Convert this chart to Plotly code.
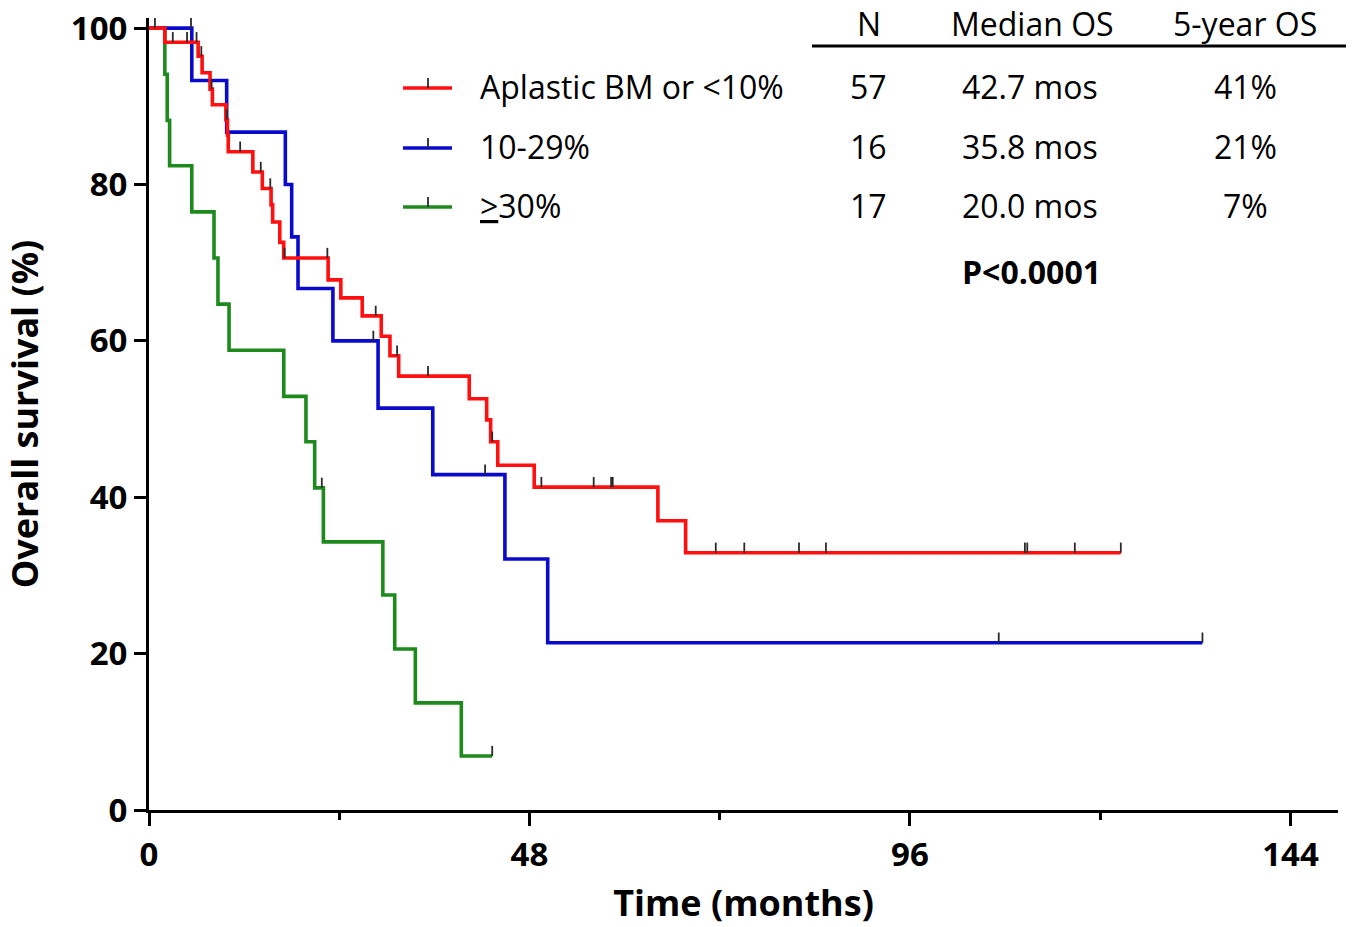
import plotly.graph_objects as go

# ---------------- data ----------------
red_times = [0, 2.0, 6.2, 6.7, 7.7, 8.0, 9.7, 9.9, 10.0, 13.1, 14.3, 15.4, 15.6, 16.5, 17.0,
             22.6, 24.2, 26.9, 29.3, 30.4, 31.5, 40.4, 42.6, 43.1, 44.0, 48.6, 64.2, 67.7, 122.6]
red_surv = [100, 98.2, 96.4, 94.3, 92.2, 90.2, 88.3, 86.3, 84.2, 81.6, 79.5, 77.4, 75.2, 72.6, 70.6,
            67.8, 65.5, 63.2, 60.6, 58.1, 55.5, 52.6, 49.9, 47.1, 44.1, 41.3, 37.0, 32.9, 32.9]
red_censor = [0.75, 3.0, 4.8, 6.0, 6.6, 7.9, 9.8, 11.5, 14.1, 15.3, 17.1, 22.5, 28.6, 31.3, 35.2,
              43.3, 49.5, 56.1, 58.3, 58.5, 71.5, 75.1, 82.0, 85.4, 110.5, 110.8, 116.8, 122.6]

blue_times = [0, 5.4, 9.8, 17.2, 18.0, 18.8, 23.2, 28.9, 35.8, 44.9, 50.3, 132.9]
blue_surv = [100, 93.3, 86.7, 80.0, 73.3, 66.7, 60.0, 51.4, 42.9, 32.1, 21.4, 21.4]
blue_censor = [5.3, 28.3, 42.4, 107.2, 132.9]

green_times = [0, 2.0, 2.3, 2.6, 5.4, 8.2, 8.7, 10.1, 17.0, 19.8, 20.9, 22.0, 29.5, 31.0, 33.6, 39.4, 43.3]
green_surv = [100, 94.1, 88.2, 82.4, 76.5, 70.6, 64.7, 58.8, 52.9, 47.1, 41.2, 34.3, 27.5, 20.6, 13.7, 6.9, 6.9]
green_censor = [21.8, 43.3]

group_labels = ["Aplastic BM or <10%", "10-29%",
                "<span style='text-decoration:underline'>></span>30%"]
group_n = ["57", "16", "17"]
group_median = ["42.7 mos", "35.8 mos", "20.0 mos"]
group_5yr = ["41%", "21%", "7%"]
table_headers = ["N", "Median OS", "5-year OS"]
p_value_text = "P<0.0001"

x_ticks = [0, 48, 96, 144]
x_minor = [24, 72, 120]
y_ticks = [0, 20, 40, 60, 80, 100]

colors = ["#FF0F0F", "#0A0ACD", "#1E8A1E"]
tick_color = "#2a2a2a"
FONT = "Open Sans"


def surv_at(times, surv, t):
    v = surv[0]
    for ti, si in zip(times, surv):
        if ti <= t:
            v = si
    return v


def censor_xy(times, surv, cens, h=1.3):
    xs, ys = [], []
    for c in cens:
        s = surv_at(times, surv, c)
        xs += [c, c, None]
        ys += [s, s + h, None]
    return xs, ys


fig = go.Figure()
groups = [(green_times, green_surv, green_censor, colors[2]),
          (blue_times, blue_surv, blue_censor, colors[1]),
          (red_times, red_surv, red_censor, colors[0])]
for times, surv, cens, col in groups:
    fig.add_trace(go.Scatter(x=times, y=surv, mode="lines", line=dict(color=col, width=3.6, shape="hv"),
                             showlegend=False, hoverinfo="skip", cliponaxis=False))
for times, surv, cens, col in groups:
    cx, cy = censor_xy(times, surv, cens)
    fig.add_trace(go.Scatter(x=cx, y=cy, mode="lines", line=dict(color=tick_color, width=1.8),
                             showlegend=False, hoverinfo="skip", cliponaxis=False))

# pixel frame of plot area
L, R, T, B = 149, 1338, 18, 810
W, H = 1354, 927


def px(x):
    return (x - L) / (R - L)


def py(y):
    return (B - y) / (B - T)


ann = []
shapes = []
txt_font = dict(family=FONT, size=32, color="black")
# header
for h, xc in zip(table_headers, [869, 1032, 1245]):
    ann.append(dict(x=px(xc), y=py(24), xref="paper", yref="paper", text=h, showarrow=False,
                    xanchor="center", yanchor="middle", font=txt_font))
shapes.append(dict(type="line", xref="paper", yref="paper", x0=px(812), x1=px(1346), y0=py(46), y1=py(46),
                   line=dict(color="black", width=3)))
rows_y = [86, 147, 205]
line_y = [88, 148, 207]
for i in range(3):
    shapes.append(dict(type="line", xref="paper", yref="paper", x0=px(403), x1=px(452),
                       y0=py(line_y[i]), y1=py(line_y[i]), line=dict(color=colors[i], width=3.6)))
    shapes.append(dict(type="line", xref="paper", yref="paper", x0=px(428), x1=px(428),
                       y0=py(line_y[i]), y1=py(line_y[i] - 10), line=dict(color=tick_color, width=1.8)))
    ann.append(dict(x=px(478), y=py(rows_y[i]), xref="paper", yref="paper", text=group_labels[i],
                    showarrow=False, xanchor="left", yanchor="middle", font=txt_font))
    ann.append(dict(x=px(869), y=py(rows_y[i]), xref="paper", yref="paper", text=group_n[i],
                    showarrow=False, xanchor="center", yanchor="middle", font=txt_font))
    ann.append(dict(x=px(1030), y=py(rows_y[i]), xref="paper", yref="paper", text=group_median[i],
                    showarrow=False, xanchor="center", yanchor="middle", font=txt_font))
    ann.append(dict(x=px(1245), y=py(rows_y[i]), xref="paper", yref="paper", text=group_5yr[i],
                    showarrow=False, xanchor="center", yanchor="middle", font=txt_font))
ann.append(dict(x=px(1031), y=py(271), xref="paper", yref="paper", text="<b>" + p_value_text + "</b>",
                showarrow=False, xanchor="center", yanchor="middle", font=txt_font))

fig.update_layout(
    width=W, height=H,
    margin=dict(l=L, r=W - R, t=T, b=H - B, pad=0, autoexpand=False),
    paper_bgcolor="white", plot_bgcolor="white",
    annotations=ann, shapes=shapes,
    font=dict(family=FONT, color="black"),
    xaxis=dict(range=[0, 150], tickvals=x_ticks, ticktext=[str(v) for v in x_ticks],
               showline=True, linecolor="black", linewidth=3, ticks="outside", ticklen=13,
               tickwidth=3, tickcolor="black", showgrid=False, zeroline=False, automargin=False,
               ticklabeloverflow="allow",
               minor=dict(tickvals=x_minor, ticks="outside", ticklen=7, tickwidth=3, tickcolor="black"),
               tickfont=dict(family=FONT, size=33, color="black", weight="bold"),
               title=dict(text="<b>Time (months)</b>", font=dict(family=FONT, size=36, color="black"),
                          standoff=18)),
    yaxis=dict(range=[0, 101.3], tickvals=y_ticks, ticktext=[str(v) for v in y_ticks],
               showline=True, linecolor="black", linewidth=3, ticks="outside", ticklen=12,
               tickwidth=3, tickcolor="black", showgrid=False, zeroline=False, automargin=False,
               ticklabeloverflow="allow",
               tickfont=dict(family=FONT, size=33, color="black", weight="bold"),
               title=dict(text="<b>Overall survival (%)</b>", font=dict(family=FONT, size=36, color="black"),
                          standoff=30)),
)

fig.write_html("out.html", config={"displayModeBar": False},
               post_script="document.body.style.margin='0';document.body.style.padding='0';")
